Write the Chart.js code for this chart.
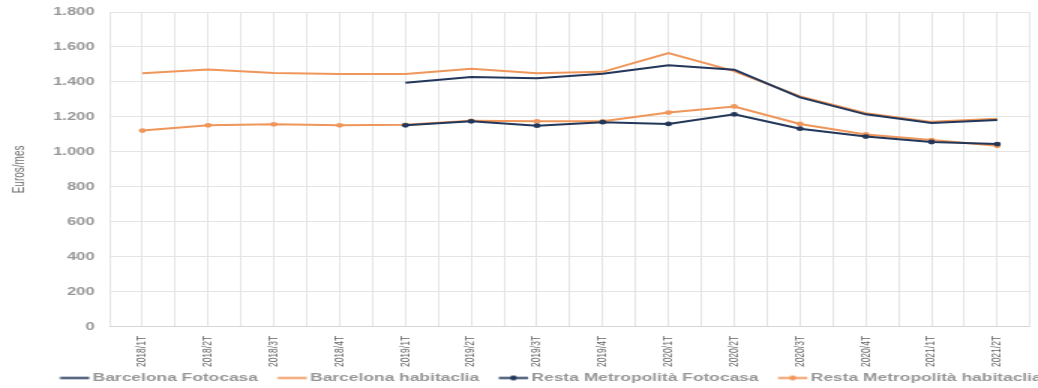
<!DOCTYPE html>
<html>
<head>
<meta charset="utf-8">
<script src="https://cdn.jsdelivr.net/npm/chart.js@4.4.1/dist/chart.umd.min.js"></script>
<style>
  html, body { margin: 0; padding: 0; background: #fff; overflow: hidden; width: 1038px; height: 388px; }
  /* the chart is laid out narrow and widened horizontally */
  #wrap { position: absolute; left: 0; top: 0; width: 706px; height: 388px; transform: scaleX(1.5); transform-origin: 0 0; }
</style>
</head>
<body>
<div id="wrap"><canvas id="c" width="706" height="388"></canvas></div>
<script>
// Quarterly rent, euros per month
const quarters = ['2018/1T','2018/2T','2018/3T','2018/4T','2019/1T','2019/2T','2019/3T',
                  '2019/4T','2020/1T','2020/2T','2020/3T','2020/4T','2021/1T','2021/2T'];
const barcelonaFotocasa   = [null, null, null, null, 1395, 1428, 1422, 1447, 1495, 1470, 1312, 1215, 1165, 1183];
const barcelonaHabitaclia = [1450, 1472, 1452, 1445, 1445, 1475, 1450, 1458, 1565, 1462, 1318, 1222, 1172, 1190];
const restaFotocasa       = [null, null, null, null, 1152, 1175, 1150, 1170, 1160, 1215, 1133, 1088, 1057, 1045];
const restaHabitaclia     = [1122, 1152, 1158, 1152, 1155, 1178, 1175, 1175, 1225, 1260, 1160, 1100, 1068, 1035];
const yTicks = [0, 200, 400, 600, 800, 1000, 1200, 1400, 1600, 1800];

const NAVY = '#22375a';
const ORANGE = '#ef965a';
const GRID = '#e4e4e4';
const TEXT = '#969696';
const FONT = 'Liberation Sans, Arial, sans-serif';
const LEGEND_SIZE = 11.6;
const LEGEND_PAD = 4;

function thousands(v) {
  return String(v).replace(/\B(?=(\d{3})+(?!\d))/g, '.');
}

// line swatch (with optional marker) used as the legend symbol
function swatch(color, withDot) {
  const c = document.createElement('canvas');
  c.width = 34; c.height = 7;
  const g = c.getContext('2d');
  g.strokeStyle = color; g.lineWidth = 2;
  g.beginPath(); g.moveTo(13.5, 3.5); g.lineTo(33, 3.5); g.stroke();
  if (withDot) {
    g.fillStyle = color;
    g.beginPath(); g.arc(23.25, 3.5, 2.4, 0, Math.PI * 2); g.fill();
  }
  return c;
}
const swatches = [swatch(NAVY, false), swatch(ORANGE, false), swatch(NAVY, true), swatch(ORANGE, true)];

// place the legend row just under the axis labels
const legendPlace = {
  id: 'legendPlace',
  afterLayout(chart) {
    const lg = chart.legend;
    if (!lg) return;
    const h = lg.bottom - lg.top;
    const w = lg.right - lg.left;
    lg.top = 378 - (LEGEND_PAD + LEGEND_SIZE / 2);
    lg.bottom = lg.top + h;
    lg.left = 27;
    lg.right = lg.left + w;
  }
};

// gridlines on every category and half way between them
const halfSteps = [];
for (let v = -0.5; v <= quarters.length - 0.5; v += 0.5) halfSteps.push(v);

new Chart(document.getElementById('c'), {
  type: 'line',
  data: {
    labels: quarters.map((q, i) => i),
    datasets: [
      { label: 'Barcelona Fotocasa', data: barcelonaFotocasa, borderColor: NAVY, backgroundColor: NAVY,
        borderWidth: 2, pointRadius: 0, tension: 0 },
      { label: 'Barcelona habitaclia', data: barcelonaHabitaclia, borderColor: ORANGE, backgroundColor: ORANGE,
        borderWidth: 2, pointRadius: 0, tension: 0 },
      { label: 'Resta Metropolità Fotocasa', data: restaFotocasa, borderColor: NAVY, backgroundColor: NAVY,
        borderWidth: 2, pointRadius: 2.4, pointBorderWidth: 0, tension: 0 },
      { label: 'Resta Metropolità habitaclia', data: restaHabitaclia, borderColor: ORANGE, backgroundColor: ORANGE,
        borderWidth: 2, pointRadius: 2.4, pointBorderWidth: 0, tension: 0 }
    ]
  },
  options: {
    responsive: false,
    animation: false,
    devicePixelRatio: 1,
    layout: { padding: { top: 12, right: 3, left: 0, bottom: -8.5 } },
    plugins: {
      tooltip: { enabled: false },
      legend: {
        position: 'bottom',
        align: 'start',
        labels: {
          usePointStyle: true,
          pointStyleWidth: 25,
          padding: LEGEND_PAD,
          color: TEXT,
          font: { family: FONT, size: LEGEND_SIZE, weight: 'bold' },
          generateLabels(chart) {
            const items = Chart.defaults.plugins.legend.labels.generateLabels(chart);
            items.forEach((it, i) => { it.pointStyle = swatches[i]; });
            return items;
          }
        }
      }
    },
    scales: {
      x: {
        type: 'linear',
        min: -0.5,
        max: quarters.length - 0.5,
        afterBuildTicks(scale) { scale.ticks = halfSteps.map(v => ({ value: v })); },
        grid: { color: GRID, drawTicks: false },
        border: { color: '#d6d6d6' },
        ticks: {
          minRotation: 90, maxRotation: 90, padding: 9, color: '#666', autoSkip: false,
          font: { family: FONT, size: 8.5 },
          callback: v => (Number.isInteger(v) ? quarters[v] : '')
        },
        afterFit(scale) { scale.height = 44; }
      },
      y: {
        min: 0, max: 1800,
        afterBuildTicks(scale) { scale.ticks = yTicks.map(v => ({ value: v })); },
        grid: { color: GRID, drawTicks: true, tickLength: 7, tickColor: 'rgba(0,0,0,0)' },
        border: { display: false },
        ticks: {
          padding: 3, color: TEXT,
          font: { family: FONT, size: 11, weight: 'bold' },
          callback: v => thousands(v)
        },
        title: {
          display: true, text: 'Euros/mes', color: '#6f6f6f',
          padding: { top: 7, bottom: 0 },
          font: { family: FONT, size: 10 }
        },
        afterFit(scale) { scale.width = 73; }
      }
    }
  },
  plugins: [legendPlace]
});
</script>
</body>
</html>
